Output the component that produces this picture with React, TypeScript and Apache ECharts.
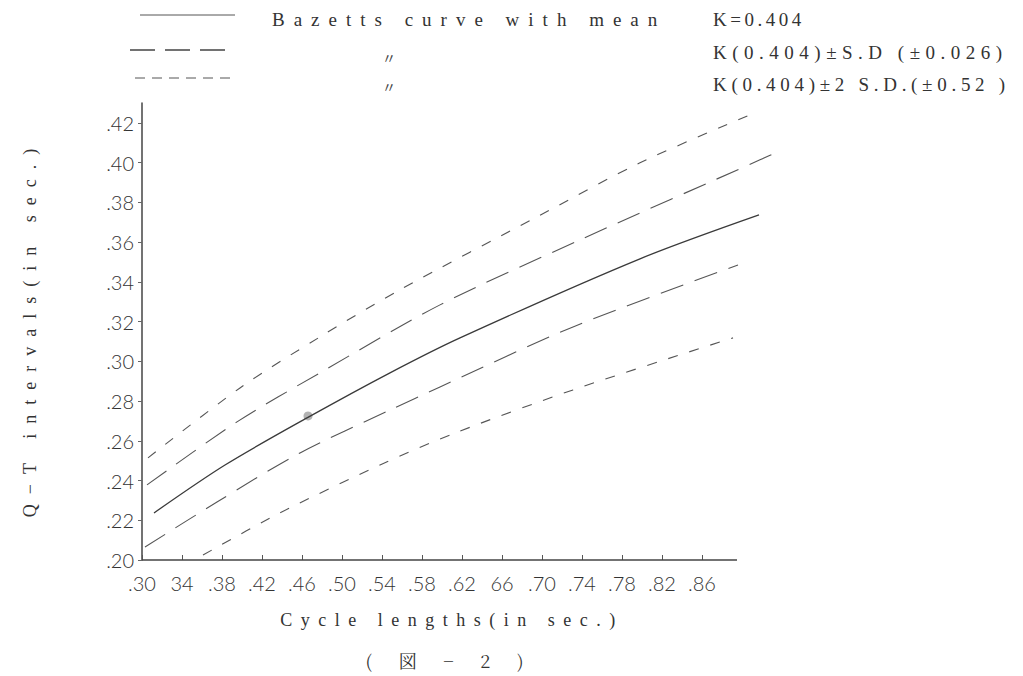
import React, { useEffect, useRef } from 'react';
import * as echarts from 'echarts';

// Tick values and labels as printed on the figure
const xTickValues = [0.3, 0.34, 0.38, 0.42, 0.46, 0.5, 0.54, 0.58, 0.62, 0.66, 0.7, 0.74, 0.78, 0.82, 0.86];
const xTickLabels = ['.30', '34', '.38', '.42', '.46', '.50', '.54', '.58', '.62', '66', '.70', '.74', '.78', '.82', '.86'];
const yTickValues = [0.2, 0.22, 0.24, 0.26, 0.28, 0.3, 0.32, 0.34, 0.36, 0.38, 0.4, 0.42];
const yTickLabels = ['.20', '.22', '.24', '.26', '.28', '.30', '.32', '.34', '.36', '.38', '.40', '.42'];
const xAxisEnd = 0.895;

// Curves: [cycle length, Q-T interval]
const meanCurve = [
  [0.312, 0.2237], [0.383, 0.2478], [0.465, 0.2715], [0.548, 0.2942],
  [0.618, 0.3118], [0.798, 0.3516], [0.917, 0.3737],
];
const plus1SD = [
  [0.305, 0.2378], [0.395, 0.2695], [0.478, 0.2942], [0.598, 0.3284],
  [0.738, 0.3611], [0.918, 0.4014], [0.94, 0.4064],
];
const plus2SD = [
  [0.306, 0.2514], [0.398, 0.2866], [0.478, 0.3123], [0.558, 0.336],
  [0.698, 0.3735], [0.798, 0.3999], [0.913, 0.4251],
];
const minus1SD = [
  [0.303, 0.2065], [0.375, 0.2292], [0.458, 0.2539], [0.548, 0.2755],
  [0.598, 0.2871], [0.731, 0.3173], [0.896, 0.3485],
];
const minus2SD = [
  [0.361, 0.2025], [0.438, 0.2237], [0.538, 0.2478], [0.613, 0.2639],
  [0.731, 0.2856], [0.891, 0.3118],
];
const meanPoint = [[0.466, 0.2725]];

const legendTexts = [
  'Bazetts curve with mean',
  'K=0.404',
  'K(0.404)±S.D (±0.026)',
  'K(0.404)±2 S.D.(±0.52 )',
];

const serif = "'Liberation Serif', 'DejaVu Serif', serif";
const tickFont = "Lato, 'Liberation Sans', sans-serif";

const spacing: Record<string, string> = {
  'Bazetts curve with mean': '9px',
  'K=0.404': '3.5px',
  'K(0.404)±S.D (±0.026)': '5.5px',
  'K(0.404)±2 S.D.(±0.52 )': '4.7px',
  'Cycle lengths(in sec.)': '8.5px',
  'Q−T intervals(in sec.)': '10px',
  '( 図 − 2 )': '11px',
};

export default function App() {
  const ref = useRef<HTMLDivElement>(null);
  useEffect(() => {
    if (!ref.current) return;
    const chart = echarts.init(ref.current, undefined, { renderer: 'svg' });
    const lineColor = '#3a3a3a';
    const dashColor = '#555';
    const xFmt = (v: number) => {
      const i = xTickValues.findIndex((t) => Math.abs(t - v) < 1e-6);
      return i >= 0 ? xTickLabels[i] : '';
    };
    const yFmt = (v: number) => {
      const i = yTickValues.findIndex((t) => Math.abs(t - v) < 1e-6);
      return i >= 0 ? yTickLabels[i] : '';
    };
    const curve = (data: number[][], type: any, color: string, width: number, extra: any = {}) => ({
      type: 'line',
      data,
      showSymbol: false,
      smooth: 0.3,
      clip: false,
      lineStyle: { color, width, type },
      silent: true,
      ...extra,
    });
    chart.setOption({
      animation: false,
      backgroundColor: '#ffffff',
      grid: { left: 142, top: 103, width: 640, height: 457, outerBoundsMode: 'none' },
      xAxis: {
        type: 'value',
        min: 0.3,
        max: 0.94,
        interval: 0.04,
        axisLine: { show: false },
        axisTick: { show: true, inside: true, length: 5, customValues: xTickValues, lineStyle: { color: '#555' } },
        splitLine: { show: false },
        axisLabel: { formatter: xFmt, customValues: xTickValues, color: '#333', fontSize: 20, fontFamily: tickFont, fontWeight: 300, margin: 13 },
      },
      yAxis: {
        type: 'value',
        min: 0.2,
        max: 0.43,
        interval: 0.02,
        axisLine: { show: true, lineStyle: { color: '#444', width: 1.5 } },
        axisTick: { show: true, inside: false, length: 4, customValues: yTickValues, lineStyle: { color: '#666' } },
        splitLine: { show: false },
        axisLabel: { formatter: yFmt, customValues: yTickValues, color: '#333', fontSize: 20, fontFamily: tickFont, fontWeight: 300, margin: 8 },
      },
      series: [
        curve(plus2SD, [10, 12], dashColor, 1.1),
        curve(plus1SD, [24, 12], dashColor, 1.1),
        curve(meanCurve, 'solid', lineColor, 1.3, {
          markLine: {
            silent: true,
            symbol: ['none', 'none'],
            label: { show: false },
            lineStyle: { color: '#444', width: 1.5, type: 'solid' },
            data: [[{ coord: [0.3, 0.2] }, { coord: [xAxisEnd, 0.2] }]],
          },
        }),
        curve(minus1SD, [24, 12], dashColor, 1.1),
        curve(minus2SD, [10, 12], dashColor, 1.1),
        {
          type: 'scatter',
          data: meanPoint,
          symbolSize: 9,
          itemStyle: { color: '#999', opacity: 0.75 },
          silent: true,
        },
      ],
      graphic: [
        { type: 'line', shape: { x1: 140, y1: 15, x2: 235, y2: 15 }, style: { stroke: '#555', lineWidth: 1 } },
        { type: 'line', shape: { x1: 130, y1: 50, x2: 225, y2: 50 }, style: { stroke: '#444', lineWidth: 1.3, lineDash: [25, 10] } },
        { type: 'line', shape: { x1: 135, y1: 78, x2: 237, y2: 78 }, style: { stroke: '#555', lineWidth: 1, lineDash: [10, 7] } },
        { type: 'text', x: 272, y: 19, style: { text: legendTexts[0], font: `19px ${serif}`, fill: '#333', textVerticalAlign: 'middle' } },
        { type: 'text', x: 713, y: 19, style: { text: legendTexts[1], font: `19px ${serif}`, fill: '#333', textVerticalAlign: 'middle' } },
        { type: 'text', x: 382, y: 57, style: { text: '〃', font: `14px 'Noto Sans CJK JP', sans-serif`, fill: '#444', textVerticalAlign: 'middle' } },
        { type: 'text', x: 713, y: 52, style: { text: legendTexts[2], font: `19px ${serif}`, fill: '#333', textVerticalAlign: 'middle' } },
        { type: 'text', x: 382, y: 86, style: { text: '〃', font: `14px 'Noto Sans CJK JP', sans-serif`, fill: '#444', textVerticalAlign: 'middle' } },
        { type: 'text', x: 713, y: 84, style: { text: legendTexts[3], font: `19px ${serif}`, fill: '#333', textVerticalAlign: 'middle' } },
        { type: 'text', x: 452, y: 620, style: { text: 'Cycle lengths(in sec.)', font: `18px ${serif}`, fill: '#333', textAlign: 'center', textVerticalAlign: 'middle' } },
        { type: 'text', x: 450, y: 660, style: { text: '( 図 − 2 )', font: `18px 'Noto Serif CJK JP', 'Noto Sans CJK JP', serif`, fill: '#333', textAlign: 'center', textVerticalAlign: 'middle' } },
        { type: 'text', x: 30, y: 328, rotation: Math.PI / 2, style: { text: 'Q−T intervals(in sec.)', font: `18px ${serif}`, fill: '#333', textAlign: 'center', textVerticalAlign: 'middle' } },
      ],
    });
    const applySpacing = () => {
      if (!ref.current) return;
      ref.current.querySelectorAll('text').forEach((t) => {
        const s = t.textContent || '';
        if (spacing[s]) t.setAttribute('letter-spacing', spacing[s]);
      });
    };
    applySpacing();
    chart.on('finished', applySpacing);
    const timer = setTimeout(applySpacing, 50);
    return () => {
      clearTimeout(timer);
      chart.dispose();
    };
  }, []);
  return <div ref={ref} style={{ position: 'fixed', left: 0, top: 0, width: 1023, height: 676, background: '#fff' }} />;
}
